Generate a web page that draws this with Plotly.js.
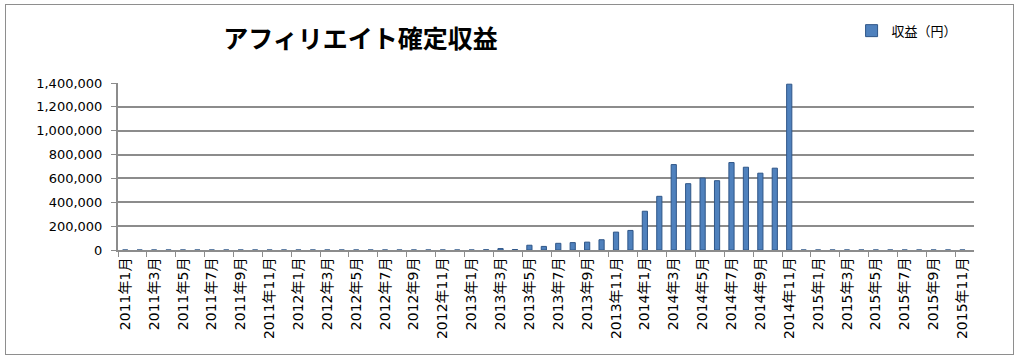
<!DOCTYPE html>
<html><head><meta charset="utf-8">
<script src="https://cdn.plot.ly/plotly-3.0.1.min.js"></script>
<style>
html,body{margin:0;padding:0;background:#fff;width:1024px;height:361px;overflow:hidden;}
#chart{position:absolute;left:0;top:0;width:1024px;height:361px;}
#frame{position:absolute;left:5px;top:4px;width:1007px;height:349px;border:1px solid #8e8e8e;pointer-events:none;}
</style></head><body>
<div id="chart"></div><div id="frame"></div>
<script>
const months = [
 "2011年1月","2011年2月","2011年3月","2011年4月","2011年5月","2011年6月","2011年7月","2011年8月","2011年9月","2011年10月","2011年11月","2011年12月",
 "2012年1月","2012年2月","2012年3月","2012年4月","2012年5月","2012年6月","2012年7月","2012年8月","2012年9月","2012年10月","2012年11月","2012年12月",
 "2013年1月","2013年2月","2013年3月","2013年4月","2013年5月","2013年6月","2013年7月","2013年8月","2013年9月","2013年10月","2013年11月","2013年12月",
 "2014年1月","2014年2月","2014年3月","2014年4月","2014年5月","2014年6月","2014年7月","2014年8月","2014年9月","2014年10月","2014年11月","2014年12月",
 "2015年1月","2015年2月","2015年3月","2015年4月","2015年5月","2015年6月","2015年7月","2015年8月","2015年9月","2015年10月","2015年11月","2015年12月"
];
const revenue = [
 0,0,0,0,0,0,0,0,0,0,0,0,
 0,0,0,0,0,0,0,0,0,0,0,0,
 0,2000,12000,4000,40000,30000,56000,62000,66000,86000,150000,164000,
 325000,450000,716000,556000,603000,581000,733000,694000,644000,686000,1390000,0,
 0,0,0,0,0,0,0,0,0,0,0,0
];
const yTicks = [0,200000,400000,600000,800000,1000000,1200000,1400000];
const yTickText = ["0","200,000","400,000","600,000","800,000","1,000,000","1,200,000","1,400,000"];
const seriesName = "収益（円）";
const chartTitle = "アフィリエイト確定収益";

const font = "'Noto Sans CJK JP', 'Noto Sans', sans-serif";
const tickFont = "'DejaVu Sans', 'Noto Sans CJK JP', sans-serif";
Plotly.newPlot("chart", [{
  type: "bar", x: months, y: revenue, name: seriesName,
  width: 0.36,
  marker: {color: "#4F81BD", line: {color: "#2f5688", width: 1}},
  showlegend: true
}], {
  width: 1024, height: 361,
  margin: {l: 118, r: 50, t: 83, b: 111},
  paper_bgcolor: "#fff", plot_bgcolor: "#fff",
  font: {family: font, color: "#000", size: 13},
  title: {text: chartTitle, font: {family: font, size: 25, color: "#000", weight: "bold"},
          x: 0.352, xanchor: "center", y: 0.89, yanchor: "middle"},
  showlegend: true,
  legend: {x: 0.857, y: 0.915, xref: "paper", yref: "container", xanchor: "left", yanchor: "middle",
           font: {family: font, size: 13, color: "#000"}, bgcolor: "rgba(0,0,0,0)", itemwidth: 30},
  bargap: 0.6,
  xaxis: {
    type: "category", range: [-0.5, 58.8],
    tickmode: "linear", tick0: 0, dtick: 2, tickson: "boundaries",
    tickangle: -90, ticks: "outside", ticklen: 5, tickcolor: "#8c8c8c",
    showline: true, linecolor: "#8c8c8c", linewidth: 2,
    showgrid: false, tickfont: {family: tickFont, size: 14, color: "#000"}, fixedrange: true
  },
  yaxis: {
    range: [0, 1400000], tickmode: "array", tickvals: yTicks, ticktext: yTickText,
    ticks: "outside", ticklen: 5, tickcolor: "#8c8c8c", ticklabelstandoff: 6,
    showline: true, linecolor: "#8c8c8c", linewidth: 2,
    showgrid: true, gridcolor: "#8c8c8c", gridwidth: 2, zeroline: false,
    tickfont: {family: tickFont, size: 13, color: "#000"}, fixedrange: true
  }
}, {displayModeBar: false, staticPlot: true});
</script>
</body></html>
